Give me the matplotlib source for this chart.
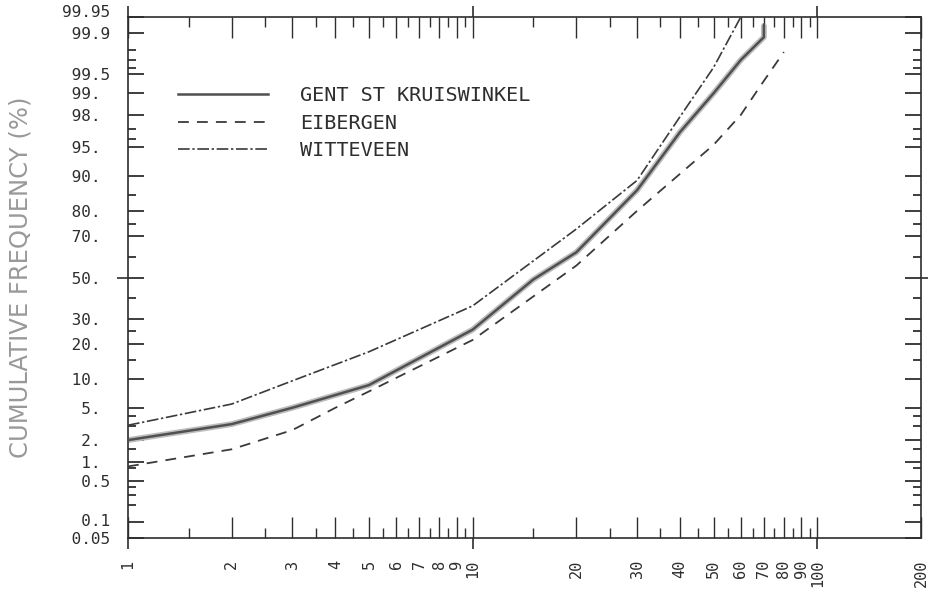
import math
import numpy as np
import matplotlib
matplotlib.use("Agg")
import matplotlib.pyplot as plt
from matplotlib.ticker import FixedLocator, FixedFormatter, NullFormatter
from matplotlib.transforms import ScaledTranslation

# ---- data: cumulative frequency (%) versus size ----
gent_x = [1, 2, 3, 5, 10, 15, 20, 30, 40, 50, 60, 70, 70]
gent_y = [2.0, 3.2, 5.0, 8.7, 25.5, 49.0, 62.5, 86.5, 96.7, 99.0, 99.7, 99.88, 99.93]

eib_x = [1, 2, 3, 4, 5, 10, 20, 30, 40, 50, 60, 70, 80]
eib_y = [0.85, 1.5, 2.7, 5.0, 7.5, 21.5, 56.0, 80.0, 90.5, 95.3, 98.0, 99.35, 99.78]

wit_x = [1, 2, 3, 5, 10, 20, 30, 40, 50, 60]
wit_y = [3.1, 5.5, 9.6, 17.4, 36.0, 73.0, 89.0, 97.9, 99.6, 99.95]

series_names = ["GENT ST KRUISWINKEL", "EIBERGEN", "WITTEVEEN"]

x_major = [1, 2, 3, 4, 5, 6, 7, 8, 9, 10, 20, 30, 40, 50, 60, 70, 80, 90, 100, 200]
x_labels = ["1", "2", "3", "4", "5", "6", "7", "8", "9", "10",
            "20", "30", "40", "50", "60", "70", "80", "90", "100", "200"]
x_minor = [1.5, 2.5, 3.5, 4.5, 5.5, 6.5, 7.5, 8.5, 9.5,
           15, 25, 35, 45, 55, 65, 75, 85, 95]

y_major = [99.95, 99.9, 99.5, 99, 98, 95, 90, 80, 70, 50, 30, 20, 10, 5, 2, 1, 0.5, 0.1, 0.05]
y_labels = ["99.95", " 99.9", " 99.5", " 99.", " 98.", " 95.", " 90.", " 80.", " 70.",
            " 50.", " 30.", " 20.", " 10.", "  5.", "  2.", "  1.", "  0.5", "  0.1", " 0.05"]
y_minor = [99.8, 99.7, 99.6, 97, 96, 85, 75, 60, 40, 25, 15, 4, 3, 1.5, 0.8, 0.4, 0.3, 0.2]

# ---- normal probability scale ----
_a = [-3.969683028665376e+01, 2.209460984245205e+02, -2.759285104469687e+02,
      1.383577518672690e+02, -3.066479806614716e+01, 2.506628277459239e+00]
_b = [-5.447609879822406e+01, 1.615858368580409e+02, -1.556989798598866e+02,
      6.680131188771972e+01, -1.328068155288572e+01]
_c = [-7.784894002430293e-03, -3.223964580411365e-01, -2.400758277161838e+00,
      -2.549671348544009e+00, 4.374664141464968e+00, 2.938163982698783e+00]
_d = [7.784695709041462e-03, 3.224671290700398e-01, 2.445134137142996e+00,
      3.754408661907416e+00]


def _ppf(p):
    p = np.asarray(p, dtype=float)
    shape = p.shape
    p = np.clip(p.ravel(), 1e-12, 1 - 1e-12)
    out = np.empty_like(p)
    plow = 0.02425
    lo = p < plow
    hi = p > 1 - plow
    mid = ~(lo | hi)
    if lo.any():
        q = np.sqrt(-2 * np.log(p[lo]))
        out[lo] = ((((((_c[0] * q + _c[1]) * q + _c[2]) * q + _c[3]) * q + _c[4]) * q + _c[5]) /
                   ((((_d[0] * q + _d[1]) * q + _d[2]) * q + _d[3]) * q + 1))
    if hi.any():
        q = np.sqrt(-2 * np.log(1 - p[hi]))
        out[hi] = -((((((_c[0] * q + _c[1]) * q + _c[2]) * q + _c[3]) * q + _c[4]) * q + _c[5]) /
                    ((((_d[0] * q + _d[1]) * q + _d[2]) * q + _d[3]) * q + 1))
    if mid.any():
        r = p[mid] - 0.5
        s = r * r
        out[mid] = ((((((_a[0] * s + _a[1]) * s + _a[2]) * s + _a[3]) * s + _a[4]) * s + _a[5]) * r /
                    (((((_b[0] * s + _b[1]) * s + _b[2]) * s + _b[3]) * s + _b[4]) * s + 1))
    return out.reshape(shape)


_erf = np.vectorize(math.erf)


def pct_forward(v):
    return _ppf(np.asarray(v, dtype=float) / 100.0)


def pct_inverse(z):
    z = np.asarray(z, dtype=float)
    return 100.0 * 0.5 * (1.0 + _erf(z / math.sqrt(2.0)))


# ---- figure ----
INK = "#2e2e2e"
plt.rcParams["font.family"] = ["DejaVu Sans Mono", "DejaVu Sans"]

fig = plt.figure(figsize=(9.29, 6.0), dpi=100)
pos = [128 / 929, 1 - 538 / 600, (921 - 128) / 929, (538 - 17) / 600]
ax = fig.add_axes(pos)
ax.set_xscale("log")
ax.set_yscale("function", functions=(pct_forward, pct_inverse))
ax.set_xlim(1, 200)
ax.set_ylim(0.05, 99.95)

# curves
ax.plot(gent_x, gent_y, color="#bdbdbd", lw=4.2, solid_capstyle="butt", zorder=2)
ax.plot(gent_x, gent_y, color="#505050", lw=1.8, label=series_names[0], zorder=3)
ax.plot(eib_x, eib_y, color="#3a3a3a", lw=1.3, dashes=(6, 4.5), label=series_names[1], zorder=3)
ax.plot(wit_x, wit_y, color="#3a3a3a", lw=1.2, dashes=(7, 1.6, 1.4, 1.6),
        label=series_names[2], zorder=3)

# spines
for sp in ax.spines.values():
    sp.set_color(INK)
    sp.set_linewidth(1.2)

# x ticks
ax.xaxis.set_major_locator(FixedLocator(x_major))
ax.xaxis.set_major_formatter(FixedFormatter(x_labels))
ax.xaxis.set_minor_locator(FixedLocator(x_minor))
ax.xaxis.set_minor_formatter(NullFormatter())
ax.tick_params(axis="x", which="major", direction="in", length=15, width=1.0,
               color=INK, top=True, bottom=True, labelsize=11, labelcolor=INK,
               labelrotation=90, pad=15.5)
ax.tick_params(axis="x", which="minor", direction="in", length=7, width=1.0,
               color=INK, top=True, bottom=True)
for lab in ax.get_xticklabels():
    lab.set_verticalalignment("top")

# y ticks
ax.yaxis.set_major_locator(FixedLocator(y_major))
ax.yaxis.set_major_formatter(FixedFormatter(y_labels))
ax.yaxis.set_minor_locator(FixedLocator(y_minor))
ax.yaxis.set_minor_formatter(NullFormatter())
ax.tick_params(axis="y", which="major", direction="in", length=11.5, width=1.3,
               color=INK, left=True, right=True, labelsize=11.5, labelcolor=INK, pad=47.5)
ax.tick_params(axis="y", which="minor", direction="in", length=6, width=1.3,
               color=INK, left=True, right=True)
ylabs = ax.get_yticklabels()
for lab in ylabs:
    lab.set_horizontalalignment("left")
# the top label sits a little above its tick, the 0.1 label slightly too
ylabs[0].set_transform(ylabs[0].get_transform() + ScaledTranslation(0, 4 / 72, fig.dpi_scale_trans))
ylabs[-2].set_transform(ylabs[-2].get_transform() + ScaledTranslation(0, 1.5 / 72, fig.dpi_scale_trans))

ax.set_ylabel("CUMULATIVE FREQUENCY (%)", fontsize=17.5, color="#999999",
              family="DejaVu Sans", labelpad=21)

# outward marks on the decade lines and the median line
ax_out = fig.add_axes(pos)
ax_out.set_xscale("log")
ax_out.set_yscale("function", functions=(pct_forward, pct_inverse))
ax_out.set_xlim(1, 200)
ax_out.set_ylim(0.05, 99.95)
ax_out.patch.set_visible(False)
for sp in ax_out.spines.values():
    sp.set_visible(False)
ax_out.xaxis.set_major_locator(FixedLocator([1, 10, 100]))
ax_out.xaxis.set_minor_locator(FixedLocator([]))
ax_out.yaxis.set_major_locator(FixedLocator([50]))
ax_out.yaxis.set_minor_locator(FixedLocator([]))
ax_out.tick_params(axis="both", which="major", direction="out", length=8, width=1.2,
                   color=INK, top=True, bottom=True, left=True, right=True,
                   labelbottom=False, labelleft=False)

leg = ax.legend(loc="upper left", bbox_to_anchor=(178 / 929, 1 - 86 / 600),
                bbox_transform=fig.transFigure, frameon=False, fontsize=14.5,
                handlelength=4.47, handletextpad=1.6, labelspacing=0.43,
                borderaxespad=0, borderpad=0)
for t in leg.get_texts():
    t.set_color(INK)

fig.savefig("out.png", dpi=100, facecolor="white")
